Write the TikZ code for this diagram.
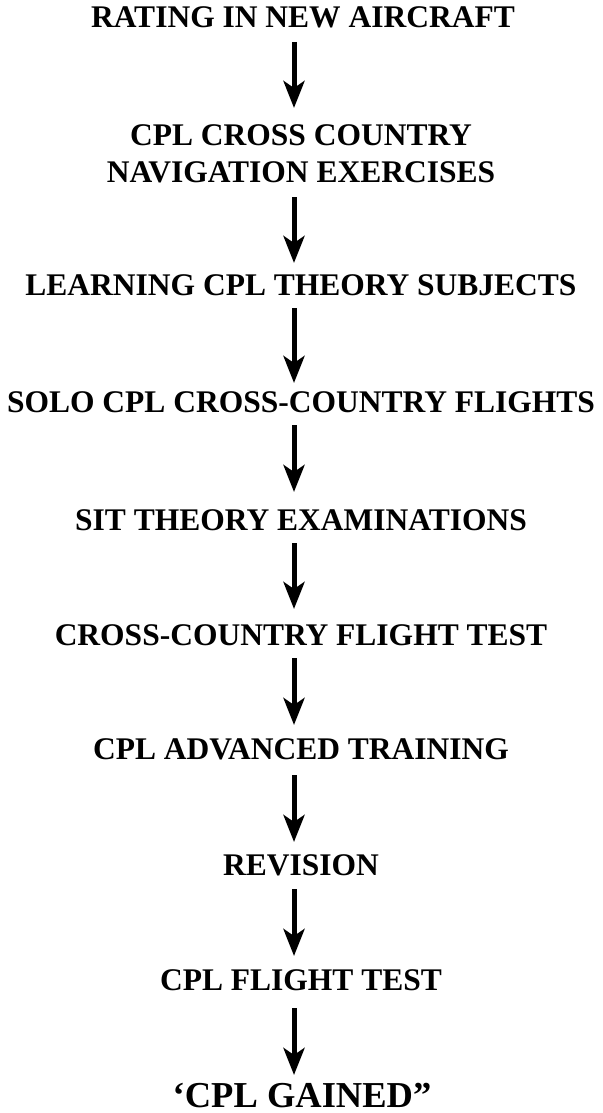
\documentclass[tikz,border=0pt]{standalone}
\usepackage{fontspec}
\setmainfont{Liberation Serif}
\usetikzlibrary{arrows.meta}
\tikzset{
  stepnode/.style={anchor=base, inner sep=0pt, outer sep=0pt, align=center,
    font=\bfseries\fontsize{31.5}{36}\selectfont},
  finalnode/.style={anchor=base, inner sep=0pt, outer sep=0pt, text depth=0pt,
    font=\bfseries\fontsize{36.5}{42}\selectfont},
  arr/.style={line width=5pt, -{Stealth[length=27pt,width=21pt,inset=7pt]}}
}
\begin{document}
\begin{tikzpicture}[x=1pt,y=1pt]
\useasboundingbox (0,0) rectangle (602,-1113);
\node[stepnode] (n1) at (303,-28) {RATING IN NEW AIRCRAFT};
\node[stepnode] (n2) at (301,-182) {CPL CROSS COUNTRY\\NAVIGATION EXERCISES};
\node[stepnode] (n3) at (301,-295) {LEARNING CPL THEORY SUBJECTS};
\node[stepnode] (n4) at (301,-412) {SOLO CPL CROSS-COUNTRY FLIGHTS};
\node[stepnode] (n5) at (301,-530) {SIT THEORY EXAMINATIONS};
\node[stepnode] (n6) at (301,-645) {CROSS-COUNTRY FLIGHT TEST};
\node[stepnode] (n7) at (301,-759) {CPL ADVANCED TRAINING};
\node[stepnode] (n8) at (301,-875) {REVISION};
\node[stepnode] (n9) at (301,-990) {CPL FLIGHT TEST};
\node[finalnode] (n10) at (302,-1107) {‘CPL GAINED”};
\draw[arr] ([shift={(-9pt,-14pt)}]n1.base) -- ([shift={(-7pt,74pt)}]n2.base);
\draw[arr] ([shift={(-7pt,-15pt)}]n2.base) -- ([shift={(-7pt,32pt)}]n3.base);
\draw[arr] ([shift={(-7pt,-13pt)}]n3.base) -- ([shift={(-7pt,29pt)}]n4.base);
\draw[arr] ([shift={(-7pt,-13pt)}]n4.base) -- ([shift={(-7pt,38pt)}]n5.base);
\draw[arr] ([shift={(-7pt,-13pt)}]n5.base) -- ([shift={(-7pt,36pt)}]n6.base);
\draw[arr] ([shift={(-7pt,-13pt)}]n6.base) -- ([shift={(-7pt,34pt)}]n7.base);
\draw[arr] ([shift={(-7pt,-16pt)}]n7.base) -- ([shift={(-7pt,33pt)}]n8.base);
\draw[arr] ([shift={(-7pt,-14pt)}]n8.base) -- ([shift={(-7pt,34pt)}]n9.base);
\draw[arr] ([shift={(-7pt,-18pt)}]n9.base) -- ([shift={(-8pt,32pt)}]n10.base);
\end{tikzpicture}
\end{document}
